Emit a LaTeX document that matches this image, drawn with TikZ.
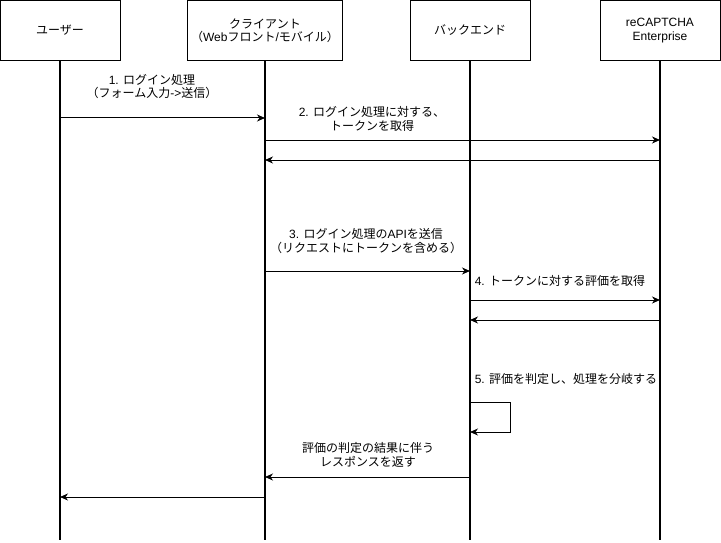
\documentclass[tikz,border=0pt]{standalone}
\usepackage{fontspec}
\setmainfont{Noto Sans CJK JP}
\newfontfamily\latf{Liberation Sans}
\newcommand\la[1]{{\latf #1}}
\usetikzlibrary{arrows.meta}
\begin{document}
\begin{tikzpicture}[x=1pt,y=-1pt,
  actor/.style={draw,line width=1pt,minimum width=120pt,minimum height=60pt,anchor=north,align=center,font=\fontsize{12pt}{13.5pt}\selectfont},
  life/.style={line width=2pt},
  msg/.style={line width=1pt,-{Stealth[length=8pt,width=7pt,inset=2.5pt]}},
  lbl/.style={align=center,inner sep=0pt,font=\fontsize{12pt}{13.5pt}\selectfont}]
\useasboundingbox (0,0) rectangle (721,543);
\node[actor] (u) at (60,0) {ユーザー};
\node[actor,minimum width=150pt] (c) at (265,0) {クライアント\\（\la{Web}フロント\la{/}モバイル）};
\node[actor] (b) at (470,0) {バックエンド};
\node[actor] (r) at (660,0) {\latf reCAPTCHA\\\latf Enterprise};
\coordinate (ue) at (60,540);
\coordinate (ce) at (265,540);
\coordinate (be) at (470,540);
\coordinate (re) at (660,540);
\draw[life] (u.south) -- (ue);
\draw[life] (c.south) -- (ce);
\draw[life] (b.south) -- (be);
\draw[life] (r.south) -- (re);
% 1
\draw[msg] (u.south |- 0,118) -- (c.south |- 0,118);
\node[lbl] (l1) at (152,86.5) {\la{1. }ログイン処理\\（フォーム入力\la{-\textgreater}送信）};
% 2
\draw[msg] (c.south |- 0,140) -- (r.south |- 0,140);
\draw[msg] (r.south |- 0,160) -- (c.south |- 0,160);
\node[lbl] (l2) at (372,119) {\la{2. }ログイン処理に対する、\\トークンを取得};
% 3
\draw[msg] (c.south |- 0,271) -- (b.south |- 0,271);
\node[lbl] (l3) at (366,241) {\la{3. }ログイン処理の\la{API}を送信\\（リクエストにトークンを含める）};
% 4
\draw[msg] (b.south |- 0,300) -- (r.south |- 0,300);
\draw[msg] (r.south |- 0,320) -- (b.south |- 0,320);
\node[lbl] (l4) at (560,281) {\la{4. }トークンに対する評価を取得};
% 5
\node[lbl] (l5) at (566,379) {\la{5. }評価を判定し、処理を分岐する};
\coordinate (s1) at (510,402);
\coordinate (s2) at (510,432);
\draw[msg] (b.south |- s1) -- (s1) -- (s2) -- (b.south |- s2);
% 6
\draw[msg] (b.south |- 0,477) -- (c.south |- 0,477);
\node[lbl] (l6) at (368,455) {評価の判定の結果に伴う\\レスポンスを返す};
\draw[msg] (c.south |- 0,497) -- (u.south |- 0,497);
\end{tikzpicture}
\end{document}
